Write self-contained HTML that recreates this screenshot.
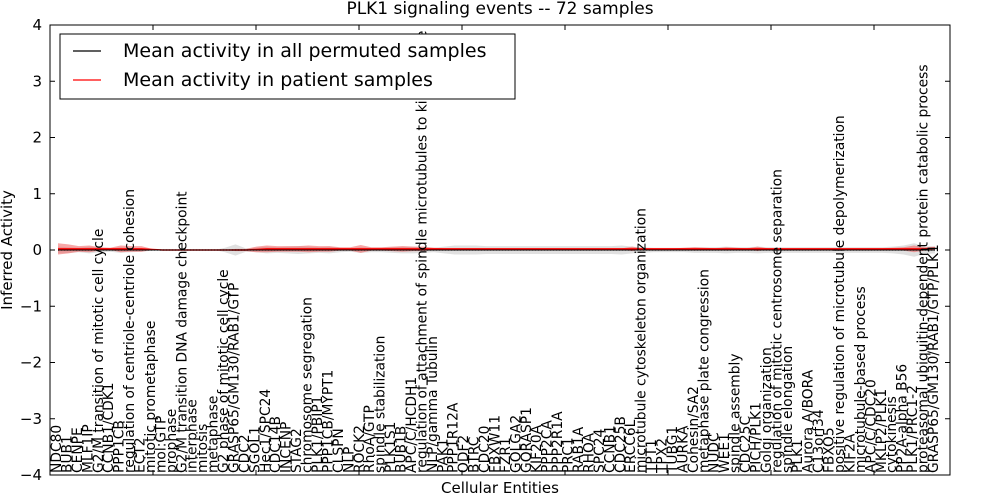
<!DOCTYPE html>
<html><head><meta charset="utf-8"><style>
body{margin:0;background:#fff}
svg{display:block;font-family:"DejaVu Sans","Liberation Sans",sans-serif}
</style></head><body>
<svg id="chart" width="1000" height="500" viewBox="0 0 1000 500" xmlns="http://www.w3.org/2000/svg">
<rect width="1000" height="500" fill="#fff"/>
<g id="bands"></g>
<g id="lines"></g>
<g id="xlabels"></g>
<g id="axes"></g>
</svg>
<script>
const entities=["NDC80","BUB1","CENPE","MLF1IP","G2/M transition of mitotic cell cycle","CCNB1/CDK1","PPP1CB","regulation of centriole-centriole cohesion","ECT2","mitotic prometaphase","mol:GTP","prophase","G2/M transition DNA damage checkpoint","interphase","mitosis","metaphase","G2 phase of mitotic cell cycle","GRASP65/GM130/RAB1/GTP","CDC2","SGOL1","Hec1/SPC24","CDC14B","INCENP","STAG2","chromosome segregation","PLK1/PBIP1","PPP1CB/MYPT1","CLSPN","NLP","ROCK2","RhoA/GTP","spindle stabilization","PLK1S1","BUB1B","APC/C/HCDH1","regulation of attachment of spindle microtubules to kinetochore","NLP/gamma Tubulin","PAK1","PPP1R12A","ODF2","BTRC","CDC20","FBXW11","FZR1","GOLGA2","GORASP1","KIF20A","PPP2CA","PPP2R1A","PRC1","RAB1A","RHOA","SPC24","CCNB1","CDC25B","ERCC6L","microtubule cytoskeleton organization","TPT1","TPX2","TUBG1","AURKA","Cohesin/SA2","metaphase plate congression","NUDC","WEE1","spindle assembly","CDC25C","PICH/PLK1","Golgi organization","regulation of mitotic centrosome separation","spindle elongation","PLK1","Aurora A/BORA","C13orf34","FBXO5","positive regulation of microtubule depolymerization","KIF2A","microtubule-based process","APC/C/CDC20","MKLP2/PLK1","cytokinesis","PP2A-alpha B56","PLK1/PRC1-2","proteasomal ubiquitin-dependent protein catabolic process","GRASP65/GM130/RAB1/GTP/PLK1"];
const patientMean=[0.02,0.02,0.02,0.02,0.02,0.02,0.02,0.02,0.02,0.01,0.0,0.0,0.0,0.0,0.0,0.0,0.0,0.0,0.0,0.01,0.02,0.02,0.02,0.02,0.02,0.02,0.02,0.02,0.02,0.02,0.02,0.02,0.02,0.02,0.02,0.02,0.02,0.02,0.02,0.02,0.02,0.02,0.02,0.02,0.02,0.02,0.02,0.02,0.02,0.02,0.02,0.02,0.02,0.02,0.02,0.02,0.02,0.02,0.02,0.02,0.02,0.02,0.02,0.02,0.02,0.02,0.02,0.02,0.02,0.02,0.02,0.02,0.02,0.02,0.02,0.02,0.02,0.02,0.02,0.02,0.02,0.02,0.02,0.02,0.03];
const patientSpread=[0.1,0.08,0.05,0.06,0.03,0.02,0.06,0.05,0.05,0.01,0,0,0,0,0,0,0,0.02,0.02,0.05,0.06,0.05,0.05,0.05,0.06,0.05,0.05,0.03,0.03,0.07,0.03,0.03,0.04,0.05,0.04,0.04,0.02,0.01,0.01,0.01,0.01,0.01,0.01,0.01,0.01,0.01,0.01,0.01,0.01,0.01,0.01,0.01,0.01,0.01,0.01,0.04,0.01,0.01,0.01,0.01,0.02,0.03,0.02,0.01,0.03,0.02,0.01,0.04,0.01,0.01,0.01,0.01,0.01,0.01,0.01,0.01,0.01,0.01,0.01,0.01,0.02,0.03,0.06,0.03,0.03];
const permMean=[0,0,0,0,0,0,0,0,0,0,0,0,0,0,0,0,0,0,0,0,0,0,0,0,0,0,0,0,0,0,0,0,0,0,0,0,0,0,0,0,0,0,0,0,0,0,0,0,0,0,0,0,0,0,0,0,0,0,0,0,0,0,0,0,0,0,0,0,0,0,0,0,0,0,0,0,0,0,0,0,0,0,0,0,0];
const permSpread=[0.06,0.05,0.04,0.06,0.04,0.03,0.05,0.04,0.03,0.01,0,0,0,0,0,0,0.04,0.1,0.03,0.04,0.06,0.05,0.06,0.07,0.06,0.05,0.06,0.04,0.03,0.05,0.04,0.04,0.05,0.06,0.06,0.05,0.04,0.06,0.08,0.08,0.08,0.07,0.07,0.07,0.07,0.07,0.07,0.07,0.07,0.07,0.07,0.07,0.07,0.07,0.08,0.06,0.05,0.04,0.04,0.04,0.04,0.05,0.05,0.05,0.06,0.05,0.05,0.06,0.05,0.05,0.05,0.05,0.05,0.05,0.05,0.05,0.05,0.05,0.05,0.05,0.06,0.08,0.12,0.07,0.06];
const yTicks=[-4,-3,-2,-1,0,1,2,3,4];
const L=50,R=950,T=25,B=475;
const xs=i=>58+i*10.44;
const ys=v=>T+(4-v)*(B-T)/8;
const NS="http://www.w3.org/2000/svg";
function mk(tag,attrs,parent,txt){const e=document.createElementNS(NS,tag);for(const k in attrs)e.setAttribute(k,attrs[k]);if(txt!==undefined)e.textContent=txt;parent.appendChild(e);return e;}
function band(mean,spread){let up=mean.map((m,i)=>xs(i)+","+ys(m+spread[i]));let dn=mean.map((m,i)=>xs(i)+","+ys(m-spread[i])).reverse();return up.concat(dn).join(" ");}
const gb=document.getElementById('bands'),gl=document.getElementById('lines'),gx=document.getElementById('xlabels'),ga=document.getElementById('axes'),svg=document.getElementById('chart');
let p=mk('polygon',{points:band(permMean,permSpread),fill:"#d8d8d8",opacity:"0.8"},gb);


p=mk('polygon',{points:band(patientMean,patientSpread),fill:"#f05050",opacity:"0.5"},gb);


p=mk('polyline',{points:permMean.map((m,i)=>xs(i)+","+ys(m)).join(" "),fill:"none",stroke:"#000","stroke-width":1.2,"stroke-dasharray":"1,2"},gl);


p=mk('polyline',{points:patientMean.map((m,i)=>xs(i)+","+ys(m)).join(" "),fill:"none",stroke:"#f00","stroke-width":1.5},gl);


p=mk('line',{x1:xs(0),x2:xs(entities.length-1),y1:ys(0),y2:ys(0),stroke:"#000","stroke-width":1},gl);


entities.forEach((n,i)=>{
 const x=xs(i)+3;
 const t=mk('text',{x:x,y:B-2,transform:`rotate(-90 ${x} ${B-2})`,"font-size":"13.8","fill":"#000"},gx,n);
 
 
});
p=mk('rect',{x:L,y:T,width:R-L,height:B-T,fill:"none",stroke:"#000","stroke-width":1},ga);


yTicks.forEach(v=>{
 const y=ys(v);
 mk('line',{x1:L,x2:L+5,y1:y,y2:y,stroke:"#000"},ga);
 mk('line',{x1:R-5,x2:R,y1:y,y2:y,stroke:"#000"},ga);
 const t=mk('text',{x:L-8,y:y+5,"text-anchor":"end","font-size":"15"},ga,v<0?"\u2212"+(-v):String(v));
 
 
});
for(let i=10;i<entities.length;i+=10){const x=L+i*10.3;mk('line',{x1:x,x2:x,y1:T,y2:T+5,stroke:"#000"},ga);mk('line',{x1:x,x2:x,y1:B-5,y2:B,stroke:"#000"},ga);}
let t=mk('text',{x:500,y:14,"text-anchor":"middle","font-size":"17"},svg,"PLK1 signaling events -- 72 samples");


t=mk('text',{x:500,y:493,"text-anchor":"middle","font-size":"15"},svg,"Cellular Entities");


t=mk('text',{x:12,y:250,"text-anchor":"middle","font-size":"15",transform:"rotate(-90 12 250)"},svg,"Inferred Activity");


const lg=mk('g',{},svg);


mk('rect',{x:60,y:34,width:455,height:65,fill:"#fff",stroke:"#000"},lg);
mk('line',{x1:73,x2:101,y1:51,y2:51,stroke:"#000","stroke-width":1.2},lg);
t=mk('text',{x:123,y:57,"font-size":"19"},lg,"Mean activity in all permuted samples");


mk('line',{x1:73,x2:101,y1:80,y2:80,stroke:"#f00","stroke-width":1.2},lg);
t=mk('text',{x:123,y:86,"font-size":"19"},lg,"Mean activity in patient samples");


</script>
</body></html>
